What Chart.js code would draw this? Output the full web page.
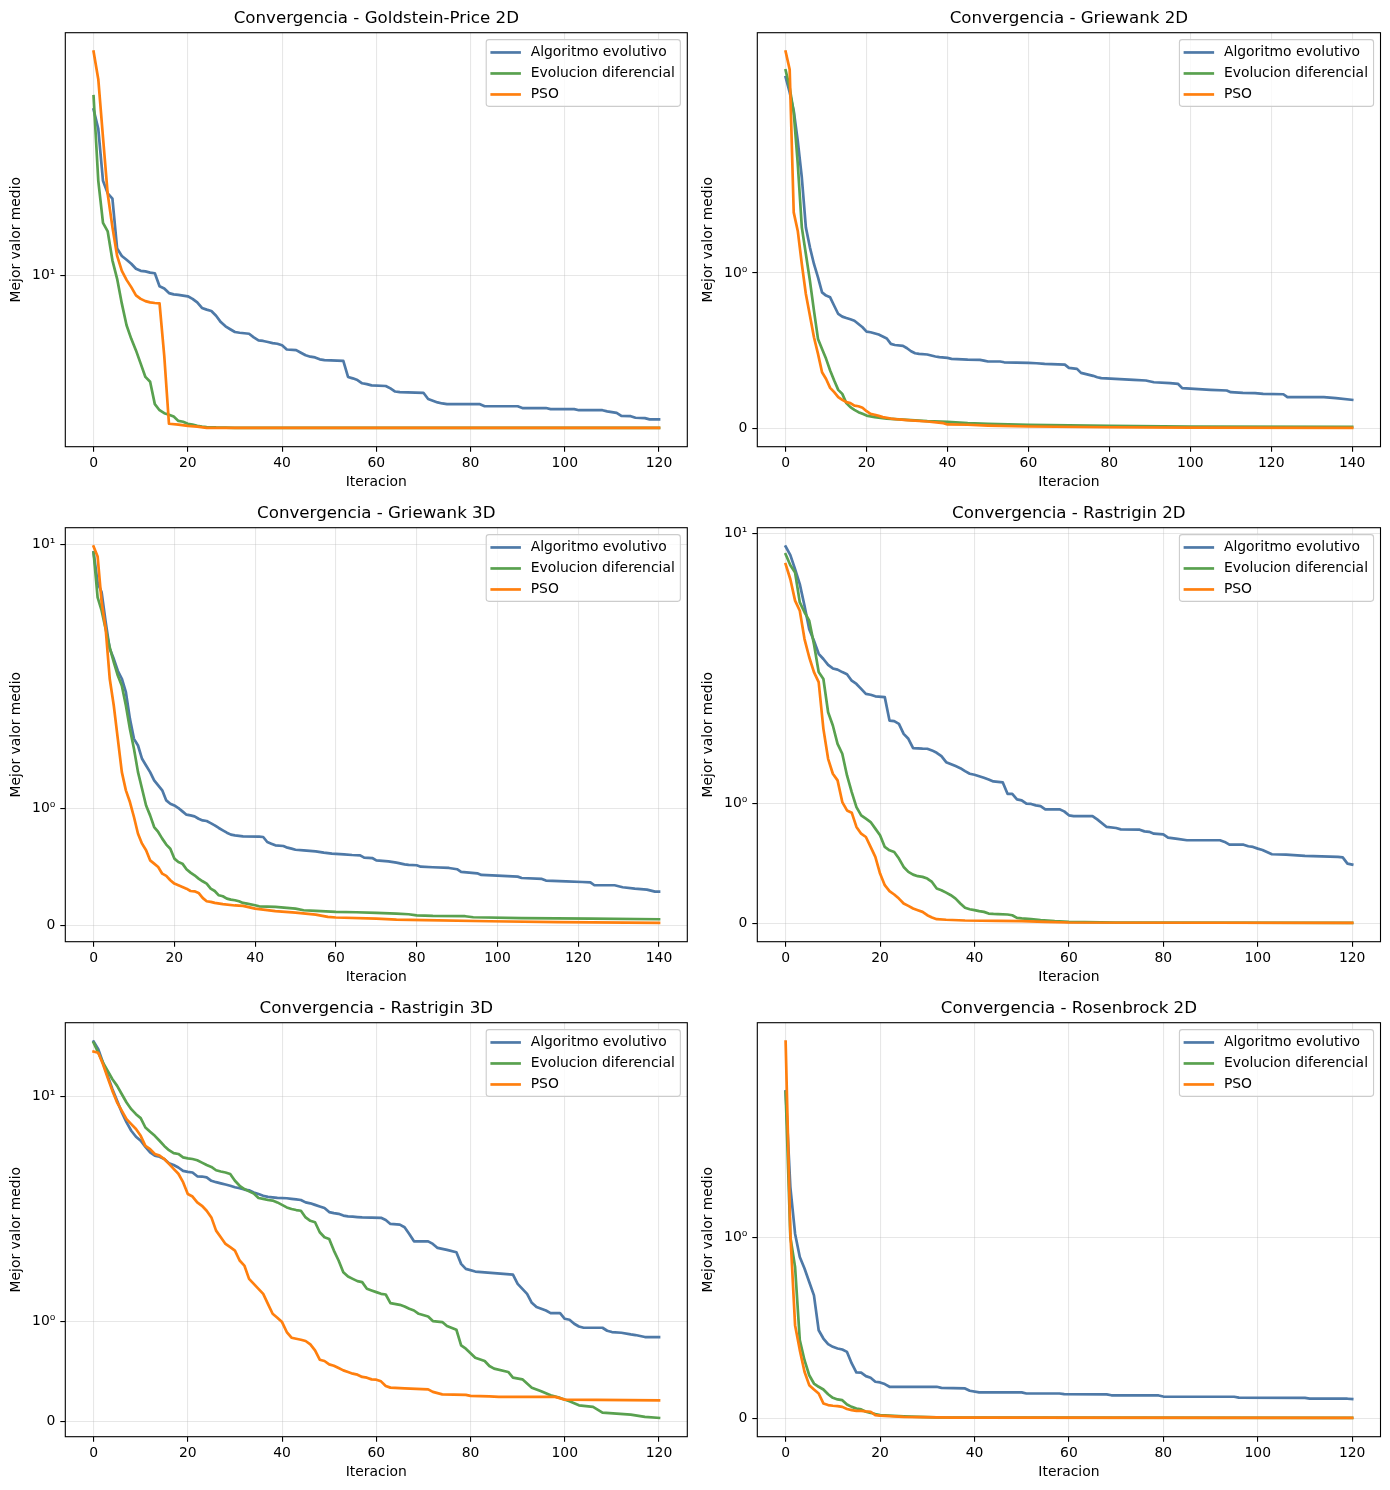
<!DOCTYPE html>
<html>
<head>
<meta charset="utf-8">
<script src="https://cdn.jsdelivr.net/npm/chart.js@4.4.1/dist/chart.umd.min.js"></script>
<style>
  html, body { margin: 0; padding: 0; background: #fff; }
  #fig { position: relative; width: 1390px; height: 1490px; }
  .cell { position: absolute; }
</style>
</head>
<body>
<div id="fig"></div>
<script>
// [iteration, mean best value]
const goldsteinEA = [[0,37.3],[1,32.0],[2,21.2],[3,19.2],[4,18.4],[5,12.4],[6,11.7],[7,11.35],[8,11.0],[9,10.57],[10,10.4],[11,10.35],[12,10.25],[13,10.2],[14,9.2],[15,9.04],[16,8.72],[17,8.63],[18,8.6],[19,8.55],[20,8.5],[21,8.33],[22,8.1],[23,7.75],[24,7.65],[25,7.57],[26,7.29],[27,6.93],[28,6.7],[29,6.55],[30,6.41],[31,6.37],[33,6.32],[34,6.14],[35,6.0],[36,5.97],[37,5.92],[38,5.87],[39,5.84],[40,5.77],[41,5.58],[43,5.55],[44,5.44],[45,5.33],[46,5.27],[47,5.24],[48,5.16],[49,5.13],[53,5.1],[54,4.49],[55,4.44],[56,4.38],[57,4.27],[58,4.24],[59,4.2],[62,4.18],[63,4.1],[64,4.0],[65,3.98],[70,3.96],[71,3.77],[72,3.72],[73,3.67],[74,3.64],[75,3.62],[82,3.62],[83,3.56],[90,3.56],[91,3.51],[96,3.51],[97,3.48],[102,3.48],[103,3.45],[108,3.45],[109,3.42],[110,3.40],[111,3.38],[112,3.30],[114,3.29],[115,3.25],[117,3.24],[118,3.21],[120,3.21]];
const goldsteinDE = [[0,41.4],[1,21.2],[2,15.2],[3,14.2],[4,11.3],[5,9.76],[6,8.02],[7,6.76],[8,6.07],[9,5.54],[10,4.99],[11,4.49],[12,4.32],[13,3.62],[14,3.45],[15,3.37],[16,3.33],[17,3.28],[18,3.17],[19,3.15],[20,3.1],[21,3.08],[22,3.05],[23,3.03],[24,3.02],[26,3.01],[30,3.0],[120,3.0]];
const goldsteinPSO = [[0,59.0],[1,47.4],[2,29.9],[3,19.1],[4,14.7],[5,11.7],[6,10.4],[7,9.68],[8,9.14],[9,8.56],[10,8.33],[11,8.18],[12,8.1],[13,8.06],[14,8.04],[15,5.3],[16,3.1],[18,3.08],[20,3.05],[22,3.03],[24,3.0],[120,3.0]];

const griewank2EA = [[0,2.78],[1,2.45],[2,2.11],[3,1.848],[4,1.613],[5,1.293],[6,1.165],[7,1.058],[8,0.972],[9,0.876],[10,0.855],[11,0.844],[12,0.79],[13,0.737],[14,0.72],[15,0.711],[16,0.703],[17,0.694],[18,0.673],[19,0.652],[20,0.624],[21,0.62],[23,0.605],[24,0.593],[25,0.58],[26,0.545],[27,0.538],[29,0.532],[30,0.517],[31,0.498],[32,0.485],[33,0.481],[35,0.477],[37,0.464],[38,0.46],[40,0.455],[41,0.449],[45,0.444],[48,0.442],[49,0.438],[50,0.432],[53,0.432],[54,0.427],[60,0.423],[62,0.421],[64,0.417],[69,0.412],[70,0.391],[72,0.385],[73,0.359],[76,0.34],[77,0.331],[78,0.325],[86,0.314],[89,0.31],[91,0.299],[95,0.293],[97,0.288],[98,0.261],[105,0.25],[109,0.246],[110,0.235],[113,0.231],[116,0.229],[118,0.224],[123,0.222],[124,0.203],[133,0.203],[136,0.197],[140,0.186]];
const griewank2DE = [[0,2.94],[1,2.55],[2,2.08],[3,1.70],[4,1.293],[5,1.122],[6,0.951],[7,0.759],[8,0.577],[9,0.513],[10,0.449],[11,0.374],[12,0.31],[13,0.25],[14,0.224],[15,0.165],[16,0.139],[17,0.122],[18,0.107],[19,0.096],[20,0.085],[22,0.075],[25,0.066],[30,0.058],[35,0.049],[40,0.045],[45,0.036],[50,0.032],[60,0.026],[80,0.019],[100,0.015],[140,0.013]];
const griewank2PSO = [[0,3.43],[1,2.96],[2,1.389],[3,1.27],[4,1.058],[5,0.865],[6,0.727],[7,0.588],[8,0.481],[9,0.363],[10,0.32],[11,0.263],[12,0.235],[13,0.203],[14,0.186],[15,0.171],[16,0.165],[17,0.149],[18,0.145],[19,0.135],[20,0.113],[21,0.096],[22,0.09],[23,0.083],[24,0.075],[26,0.066],[28,0.06],[30,0.056],[35,0.047],[39,0.036],[40,0.028],[45,0.026],[50,0.021],[60,0.015],[80,0.01],[100,0.008],[140,0.006]];

const griewank3EA = [[0,9.16],[1,6.6],[2,5.92],[3,4.27],[4,3.19],[5,2.86],[6,2.51],[7,2.30],[8,1.994],[9,1.766],[10,1.595],[11,1.538],[12,1.424],[13,1.367],[14,1.31],[15,1.239],[16,1.196],[17,1.154],[18,1.068],[19,1.04],[20,1.025],[21,1.003],[22,0.974],[23,0.946],[24,0.94],[25,0.931],[26,0.911],[27,0.897],[28,0.892],[29,0.874],[30,0.855],[31,0.832],[32,0.812],[33,0.792],[34,0.775],[35,0.769],[37,0.76],[41,0.758],[42,0.755],[43,0.712],[44,0.698],[45,0.684],[47,0.678],[48,0.664],[49,0.655],[50,0.646],[52,0.641],[55,0.632],[57,0.621],[59,0.612],[62,0.607],[64,0.601],[66,0.598],[67,0.578],[69,0.575],[70,0.555],[73,0.547],[75,0.536],[77,0.521],[78,0.516],[80,0.513],[81,0.501],[84,0.496],[88,0.49],[90,0.479],[91,0.456],[95,0.444],[96,0.43],[100,0.425],[105,0.416],[106,0.404],[111,0.396],[112,0.382],[117,0.376],[121,0.37],[123,0.367],[124,0.342],[129,0.342],[131,0.325],[134,0.313],[137,0.305],[139,0.288],[140,0.288]];
const griewank3DE = [[0,9.16],[1,5.6],[2,4.85],[3,3.96],[4,3.24],[5,2.76],[6,2.38],[7,2.13],[8,1.88],[9,1.68],[10,1.51],[11,1.31],[12,1.168],[13,1.025],[14,0.94],[15,0.84],[16,0.798],[17,0.741],[18,0.69],[19,0.655],[20,0.57],[21,0.541],[22,0.527],[23,0.479],[24,0.45],[25,0.427],[26,0.399],[27,0.376],[28,0.356],[29,0.313],[30,0.293],[31,0.256],[32,0.248],[33,0.228],[34,0.219],[35,0.214],[36,0.205],[37,0.191],[38,0.185],[40,0.171],[41,0.162],[45,0.157],[50,0.142],[52,0.128],[55,0.122],[60,0.114],[65,0.111],[70,0.105],[75,0.1],[78,0.094],[80,0.085],[84,0.08],[92,0.077],[94,0.068],[106,0.06],[123,0.057],[140,0.051]];
const griewank3PSO = [[0,9.78],[1,8.77],[2,5.31],[3,3.96],[4,2.30],[5,1.88],[6,1.595],[7,1.31],[8,1.154],[9,1.054],[10,0.926],[11,0.783],[12,0.698],[13,0.641],[14,0.555],[15,0.527],[16,0.498],[17,0.441],[18,0.422],[19,0.385],[20,0.356],[21,0.342],[22,0.328],[23,0.313],[24,0.293],[25,0.29],[26,0.276],[27,0.234],[28,0.205],[29,0.2],[30,0.191],[32,0.18],[35,0.169],[37,0.165],[40,0.142],[45,0.12],[50,0.108],[55,0.091],[58,0.071],[60,0.066],[70,0.057],[75,0.048],[82,0.043],[98,0.034],[115,0.026],[140,0.02]];

const rastrigin2EA = [[0,8.68],[1,7.92],[2,6.82],[3,5.81],[4,4.61],[5,3.59],[6,3.17],[7,2.76],[8,2.61],[9,2.45],[10,2.36],[11,2.33],[12,2.27],[13,2.22],[14,2.07],[15,2.0],[16,1.959],[17,1.917],[18,1.91],[19,1.897],[21,1.89],[22,1.694],[23,1.69],[24,1.667],[25,1.583],[26,1.542],[27,1.464],[29,1.46],[30,1.459],[31,1.445],[32,1.425],[33,1.397],[34,1.347],[36,1.314],[37,1.297],[38,1.272],[39,1.25],[40,1.242],[42,1.217],[43,1.203],[44,1.186],[46,1.178],[47,1.083],[48,1.083],[49,1.036],[50,1.028],[51,1.0],[52,0.998],[53,0.986],[54,0.98],[55,0.953],[58,0.953],[59,0.936],[60,0.903],[61,0.897],[65,0.897],[66,0.869],[68,0.806],[70,0.797],[71,0.786],[75,0.783],[76,0.769],[77,0.765],[78,0.75],[80,0.744],[81,0.717],[83,0.706],[85,0.695],[92,0.695],[93,0.681],[94,0.658],[97,0.658],[98,0.645],[99,0.639],[100,0.625],[101,0.614],[103,0.578],[106,0.575],[110,0.564],[117,0.556],[118,0.552],[119,0.5],[120,0.492]];
const rastrigin2DE = [[0,8.0],[1,7.11],[2,6.58],[3,4.78],[4,4.30],[5,3.93],[6,3.06],[7,2.27],[8,2.11],[9,1.764],[10,1.653],[11,1.50],[12,1.417],[13,1.236],[14,1.097],[15,0.972],[16,0.903],[17,0.875],[18,0.847],[19,0.792],[20,0.736],[21,0.639],[22,0.611],[23,0.597],[24,0.542],[25,0.472],[26,0.431],[27,0.408],[28,0.395],[29,0.389],[30,0.375],[31,0.347],[32,0.292],[33,0.278],[34,0.258],[35,0.236],[36,0.208],[37,0.167],[38,0.131],[39,0.119],[40,0.111],[41,0.103],[42,0.097],[43,0.083],[44,0.08],[45,0.078],[47,0.075],[48,0.069],[49,0.047],[50,0.042],[52,0.036],[54,0.028],[57,0.019],[60,0.014],[70,0.008],[120,0.005]];
const rastrigin2PSO = [[0,7.19],[1,6.12],[2,4.87],[3,4.37],[4,3.23],[5,2.66],[6,2.27],[7,2.04],[8,1.625],[9,1.375],[10,1.25],[11,1.195],[12,1.014],[13,0.944],[14,0.925],[15,0.806],[16,0.75],[17,0.722],[18,0.639],[19,0.556],[20,0.417],[21,0.32],[22,0.27],[23,0.242],[24,0.208],[25,0.167],[26,0.147],[27,0.125],[28,0.111],[29,0.097],[30,0.069],[31,0.05],[32,0.036],[34,0.031],[38,0.025],[45,0.022],[50,0.019],[55,0.014],[60,0.008],[120,0.005]];

const rastrigin3EA = [[0,20.2],[1,18.3],[2,15.4],[3,13.0],[4,10.96],[5,9.44],[6,8.14],[7,7.16],[8,6.44],[9,5.96],[10,5.66],[11,5.24],[12,4.88],[13,4.68],[14,4.61],[15,4.48],[16,4.24],[17,4.15],[18,4.02],[19,3.85],[20,3.80],[21,3.77],[22,3.59],[23,3.58],[24,3.54],[25,3.39],[26,3.33],[27,3.28],[28,3.23],[29,3.18],[30,3.12],[31,3.08],[32,3.03],[33,3.0],[34,2.92],[35,2.86],[36,2.80],[37,2.76],[38,2.74],[39,2.72],[41,2.71],[42,2.69],[43,2.67],[44,2.65],[45,2.57],[46,2.54],[47,2.49],[48,2.44],[49,2.39],[50,2.27],[51,2.24],[52,2.22],[53,2.17],[54,2.15],[55,2.14],[56,2.13],[57,2.12],[61,2.11],[62,2.05],[63,1.98],[65,1.973],[66,1.947],[67,1.88],[68,1.806],[71,1.806],[72,1.78],[73,1.74],[75,1.72],[77,1.697],[78,1.58],[79,1.53],[81,1.503],[87,1.48],[89,1.473],[90,1.38],[91,1.33],[92,1.28],[93,1.19],[94,1.147],[96,1.113],[97,1.087],[99,1.087],[100,1.03],[101,1.02],[102,0.98],[103,0.953],[104,0.94],[108,0.94],[109,0.91],[110,0.897],[112,0.89],[114,0.873],[115,0.867],[117,0.847],[120,0.847]];
const rastrigin3DE = [[0,19.9],[1,17.5],[2,15.4],[3,13.87],[4,12.46],[5,11.44],[6,10.28],[7,9.25],[8,8.49],[9,7.96],[10,7.57],[11,6.71],[12,6.35],[13,6.03],[14,5.66],[15,5.3],[16,5.02],[17,4.83],[18,4.78],[19,4.58],[20,4.52],[21,4.48],[22,4.41],[23,4.28],[24,4.15],[25,4.05],[26,3.88],[27,3.82],[28,3.77],[29,3.70],[30,3.39],[31,3.18],[32,3.05],[33,2.96],[34,2.88],[35,2.72],[36,2.69],[37,2.65],[38,2.63],[39,2.57],[40,2.49],[41,2.41],[42,2.36],[43,2.33],[44,2.31],[45,2.12],[46,2.03],[47,1.997],[48,1.897],[49,1.847],[50,1.83],[51,1.713],[52,1.614],[53,1.497],[54,1.453],[55,1.43],[56,1.407],[57,1.397],[58,1.33],[59,1.313],[60,1.297],[61,1.28],[62,1.273],[63,1.187],[65,1.17],[66,1.153],[67,1.13],[68,1.113],[69,1.08],[71,1.053],[72,1.007],[74,0.997],[75,0.957],[77,0.92],[78,0.763],[79,0.73],[81,0.64],[83,0.607],[84,0.557],[85,0.53],[88,0.497],[89,0.44],[91,0.423],[93,0.34],[95,0.303],[97,0.263],[99,0.237],[101,0.203],[103,0.163],[106,0.147],[108,0.09],[111,0.08],[114,0.07],[117,0.047],[120,0.037]];
const rastrigin3PSO = [[0,17.75],[1,17.5],[2,15.1],[3,12.7],[4,10.73],[5,9.25],[6,8.31],[7,7.47],[8,7.01],[9,6.58],[10,6.03],[11,5.3],[12,5.09],[13,4.78],[14,4.68],[15,4.48],[16,4.21],[17,3.95],[18,3.71],[19,3.33],[20,2.86],[21,2.77],[22,2.57],[23,2.46],[24,2.31],[25,2.12],[26,1.913],[27,1.847],[28,1.78],[29,1.747],[30,1.713],[31,1.614],[32,1.563],[33,1.43],[34,1.38],[35,1.33],[36,1.28],[37,1.18],[38,1.08],[39,1.04],[40,0.997],[41,0.897],[42,0.84],[43,0.83],[44,0.82],[45,0.807],[46,0.773],[47,0.713],[48,0.62],[49,0.607],[50,0.573],[51,0.56],[52,0.537],[53,0.513],[54,0.497],[55,0.48],[56,0.47],[57,0.447],[58,0.44],[59,0.423],[60,0.42],[61,0.403],[62,0.357],[63,0.34],[66,0.333],[71,0.323],[72,0.297],[74,0.273],[79,0.267],[80,0.257],[84,0.253],[86,0.247],[98,0.247],[100,0.22],[120,0.213]];

const rosenbrockEA = [[0,1.81],[1,1.28],[2,1.022],[3,0.893],[4,0.829],[5,0.755],[6,0.681],[7,0.488],[8,0.442],[9,0.411],[10,0.396],[11,0.387],[12,0.381],[13,0.368],[14,0.304],[15,0.254],[16,0.253],[17,0.234],[18,0.225],[19,0.203],[20,0.199],[21,0.19],[22,0.175],[32,0.175],[33,0.169],[38,0.166],[39,0.153],[41,0.144],[50,0.144],[51,0.138],[58,0.138],[59,0.134],[68,0.133],[69,0.128],[79,0.127],[80,0.121],[95,0.12],[96,0.115],[110,0.114],[111,0.11],[119,0.109],[120,0.107]];
const rosenbrockDE = [[0,1.805],[1,1.004],[2,0.838],[3,0.433],[4,0.322],[5,0.239],[6,0.193],[7,0.175],[8,0.16],[9,0.134],[10,0.114],[11,0.105],[12,0.101],[13,0.077],[14,0.064],[15,0.055],[16,0.05],[17,0.037],[18,0.031],[19,0.024],[20,0.018],[22,0.015],[25,0.011],[32,0.0055],[50,0.004],[120,0.003]];
const rosenbrockPSO = [[0,2.23],[1,1.022],[2,0.516],[3,0.378],[4,0.258],[5,0.184],[6,0.16],[7,0.138],[8,0.083],[9,0.074],[10,0.07],[11,0.068],[12,0.064],[13,0.052],[14,0.046],[15,0.042],[16,0.042],[17,0.039],[18,0.037],[19,0.018],[20,0.015],[22,0.013],[25,0.009],[32,0.0055],[36,0.004],[120,0.003]];

const panelTitles = [
  'Convergencia - Goldstein-Price 2D', 'Convergencia - Griewank 2D',
  'Convergencia - Griewank 3D', 'Convergencia - Rastrigin 2D',
  'Convergencia - Rastrigin 3D', 'Convergencia - Rosenbrock 2D'
];
const seriesLabels = ['Algoritmo evolutivo', 'Evolucion diferencial', 'PSO'];
const xTickValues = [0, 20, 40, 60, 80, 100, 120, 140];
const yTickValues = [0, 1, 10];
const yTickLabels = ['0', '10\u2070', '10\u00b9'];

const panelSeries = [
  [goldsteinEA, goldsteinDE, goldsteinPSO],
  [griewank2EA, griewank2DE, griewank2PSO],
  [griewank3EA, griewank3DE, griewank3PSO],
  [rastrigin2EA, rastrigin2DE, rastrigin2PSO],
  [rastrigin3EA, rastrigin3DE, rastrigin3PSO],
  [rosenbrockEA, rosenbrockDE, rosenbrockPSO]
];

const seriesColors = ['#4e79a7', '#59a14f', '#ff7f0e'];
const gridColor = 'rgba(176,176,176,0.3)';
const FS = 13.9;

Chart.defaults.font.family = '"DejaVu Sans", sans-serif';
Chart.defaults.font.size = FS;
Chart.defaults.color = '#000';

// symmetric log transform, matplotlib default (linthresh 2, linscale 1, base 10)
const LT = 2, LS = 1 / (1 - 1 / 10);
function symT(v) {
  const a = Math.abs(v);
  const t = a <= LT ? a * LS : LT * (LS + Math.log10(a / LT));
  return v < 0 ? -t : t;
}
function symInv(t) {
  const a = Math.abs(t);
  const v = a <= LT * LS ? a / LS : LT * Math.pow(10, a / LT - LS);
  return t < 0 ? -v : v;
}

class SymlogScale extends Chart.Scale {
  static id = 'symlog';
  static defaults = {};
  determineDataLimits() {
    const { min, max } = this.getMinMax(true);
    const a = symT(min), b = symT(max), m = (b - a) * 0.05;
    this.min = symInv(a - m);
    this.max = symInv(b + m);
  }
  buildTicks() {
    return yTickValues.filter(v => v >= this.min && v <= this.max).map(v => ({ value: v }));
  }
  configure() {
    super.configure();
    this._lo = symT(this.min);
    this._hi = symT(this.max);
  }
  getLabelForValue(v) { return String(v); }
  getPixelForValue(v) {
    return this.getPixelForDecimal((symT(v) - this._lo) / (this._hi - this._lo));
  }
  getValueForPixel(p) {
    return symInv(this._lo + this.getDecimalForPixel(p) * (this._hi - this._lo));
  }
}
Chart.register(SymlogScale);

// spines + matplotlib style legend inside the axes
const framePlugin = {
  id: 'frame',
  afterDraw(chart) {
    const { ctx, chartArea: a } = chart;
    ctx.save();
    ctx.strokeStyle = '#000';
    ctx.lineWidth = 1.1;
    ctx.strokeRect(a.left, a.top, a.right - a.left, a.bottom - a.top);

    ctx.font = FS + 'px "DejaVu Sans"';
    const pad = 0.4 * FS, hl = 2 * FS, htp = 0.8 * FS, gap = 0.5 * FS;
    const sets = chart.data.datasets;
    const tw = Math.max(...sets.map(d => ctx.measureText(d.label).width));
    const w = pad + hl + htp + tw + pad;
    const h = 2 * pad + sets.length * FS + (sets.length - 1) * gap;
    const x0 = a.right - 0.5 * FS - w, y0 = a.top + 0.5 * FS;
    ctx.beginPath();
    ctx.roundRect(x0, y0, w, h, 0.2 * FS);
    ctx.fillStyle = 'rgba(255,255,255,0.8)';
    ctx.fill();
    ctx.strokeStyle = '#cccccc';
    ctx.lineWidth = 1.1;
    ctx.stroke();
    sets.forEach((d, i) => {
      const cy = y0 + pad + FS / 2 + i * 21 + 0.3;
      ctx.beginPath();
      ctx.moveTo(x0 + pad, cy);
      ctx.lineTo(x0 + pad + hl, cy);
      ctx.strokeStyle = d.borderColor;
      ctx.lineWidth = d.borderWidth;
      ctx.lineCap = 'square';
      ctx.stroke();
      ctx.fillStyle = '#000';
      ctx.textBaseline = 'middle';
      ctx.textAlign = 'left';
      ctx.fillText(d.label, x0 + pad + hl + htp, cy);
    });
    ctx.restore();
  }
};

const fig = document.getElementById('fig');
panelSeries.forEach((series, p) => {
  const col = p % 2, row = Math.floor(p / 2);
  const cw = col === 0 ? 692 : 698, ch = 495;
  const div = document.createElement('div');
  div.className = 'cell';
  div.style.left = (col === 0 ? 0 : 692) + 'px';
  div.style.top = (row * 495) + 'px';
  div.style.width = cw + 'px';
  div.style.height = ch + 'px';
  const canvas = document.createElement('canvas');
  canvas.width = cw;
  canvas.height = ch;
  div.appendChild(canvas);
  fig.appendChild(div);

  const n = Math.max(...series.map(s => s[s.length - 1][0]));
  const datasets = series.map((s, i) => ({
    label: seriesLabels[i],
    data: s.map(([x, y]) => ({ x, y })),
    borderColor: seriesColors[i],
    backgroundColor: seriesColors[i],
    borderWidth: 2.7,
    borderJoinStyle: 'round',
    borderCapStyle: 'square',
    pointRadius: 0,
    tension: 0,
    fill: false,
    order: 3 - i
  }));

  const gridOpts = { color: gridColor, lineWidth: 1.1, tickColor: '#000', tickWidth: 1.1, tickLength: 5, drawTicks: true };

  new Chart(canvas.getContext('2d'), {
    type: 'line',
    data: { datasets },
    options: {
      responsive: false,
      animation: false,
      layout: { padding: { left: 0, top: 0, bottom: 0, right: col === 0 ? 4.7 : 9.5 } },
      plugins: {
        legend: { display: false },
        tooltip: { enabled: false },
        title: {
          display: true, text: panelTitles[p], color: '#000', fullSize: false,
          font: { size: 16.67, weight: 'normal' },
          padding: { top: 8.5, bottom: 4.2 }
        }
      },
      scales: {
        x: {
          type: 'linear', min: -0.05 * n, max: 1.05 * n,
          afterBuildTicks: s => { s.ticks = xTickValues.filter(v => v <= n).map(v => ({ value: v })); },
          afterFit: s => { s.height = 48.3; },
          grid: gridOpts,
          border: { display: false },
          ticks: { color: '#000', padding: 3, maxRotation: 0, autoSkip: false, font: { size: FS } },
          title: { display: true, text: 'Iteracion', color: '#000', font: { size: FS }, padding: { top: 0, bottom: 4.0 } }
        },
        y: {
          type: 'symlog',
          afterFit: s => { s.width = 65.3; },
          grid: gridOpts,
          border: { display: false },
          ticks: {
            color: '#000', padding: 5, font: { size: FS },
            callback: v => yTickLabels[yTickValues.indexOf(v)]
          },
          title: { display: true, text: 'Mejor valor medio', color: '#000', font: { size: FS }, padding: { top: 8.5, bottom: 0 } }
        }
      }
    },
    plugins: [framePlugin]
  });
});
</script>
</body>
</html>
